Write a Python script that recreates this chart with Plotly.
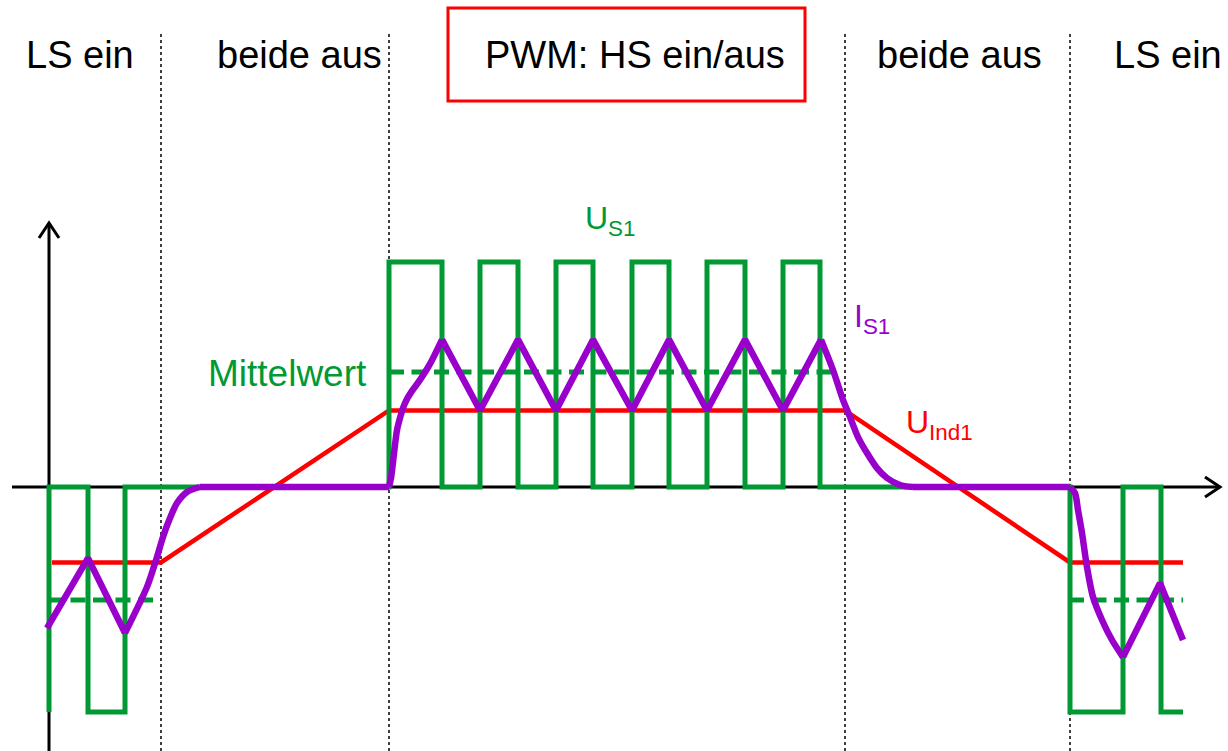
import plotly.graph_objects as go

# ---- signal data (time in arbitrary units, levels normalised to the supply voltage) ----
# switch-node voltage U_S1
us1_t = [49, 49, 88, 88, 125, 125, 389, 389, 442, 442, 480, 480, 518, 518, 556, 556,
         593, 593, 632, 632, 669, 669, 707, 707, 745, 745, 783, 783, 820, 820,
         1070, 1070, 1123, 1123, 1161, 1161, 1183]
us1_v = [-1, 0, 0, -1, -1, 0, 0, 1, 1, 0, 0, 1, 1, 0, 0, 1,
         1, 0, 0, 1, 1, 0, 0, 1, 1, 0, 0, 1, 1, 0,
         0, -1, -1, 0, 0, -1, -1]

# average value of U_S1 ("Mittelwert") per switching phase
mean_t = [48, 155, None, 389, 835, None, 1069, 1183]
mean_v = [-0.502, -0.502, None, 0.511, 0.511, None, -0.502, -0.502]

# induced voltage U_Ind1
uind_t = [52, 161, 389, 845, 1070, 1183]
uind_v = [-0.335, -0.335, 0.34, 0.34, -0.335, -0.335]

# phase current I_S1
is1_t = [47, 88, 125, 147, 157, 163, 170, 177, 187, 200, 389,
         391, 393, 395, 397, 400, 403, 407, 412, 420, 430, 442,
         480, 518, 556, 593, 632, 669, 707, 745, 783, 821,
         833, 843, 850, 858, 867, 877, 887, 900, 913,
         1070, 1075, 1078, 1082, 1087, 1093, 1102, 1112, 1123, 1160, 1183]
is1_v = [-0.627, -0.316, -0.649, -0.444, -0.311, -0.222, -0.138, -0.071, -0.022, 0, 0,
         0.04, 0.111, 0.187, 0.253, 0.307, 0.351, 0.391, 0.427, 0.476, 0.547, 0.655,
         0.34, 0.655, 0.34, 0.655, 0.34, 0.655, 0.34, 0.655, 0.34, 0.655,
         0.52, 0.387, 0.311, 0.222, 0.151, 0.084, 0.04, 0.009, 0,
         0, -0.027, -0.102, -0.204, -0.356, -0.489, -0.591, -0.68, -0.756, -0.427, -0.68]

# current pieces: straight ramps while switching, smooth curves during the transitions
# (first index, last index, line shape)
is1_pieces = [(0, 2, "linear"), (2, 9, "spline"), (9, 10, "linear"),
              (10, 21, "spline"), (21, 31, "linear"), (31, 40, "spline"),
              (40, 41, "linear"), (41, 49, "spline"), (49, 51, "linear")]

# switching phases
phase_bounds = [161, 389, 845, 1070]
phase_labels = ["LS ein", "beide aus", "PWM: HS ein/aus", "beide aus", "LS ein"]
phase_label_x = [80, 299, 635, 959, 1168]

GREEN = "#009933"
PURPLE = "#9900CC"
RED = "#FF0000"
FONT = "Liberation Sans, Arial, sans-serif"

W, H = 1228, 751
Y0_PX, UNIT_PX = 487, 225          # zero line position and size of one level unit
y_lo = (Y0_PX - H) / UNIT_PX
y_hi = Y0_PX / UNIT_PX


def paper_y(px):
    return 1 - px / H


fig = go.Figure()

fig.add_trace(go.Scatter(x=uind_t, y=uind_v, mode="lines",
                         line=dict(color=RED, width=4.5), hoverinfo="skip"))
fig.add_trace(go.Scatter(x=us1_t, y=us1_v, mode="lines",
                         line=dict(color=GREEN, width=5), hoverinfo="skip"))
fig.add_trace(go.Scatter(x=mean_t, y=mean_v, mode="lines",
                         line=dict(color=GREEN, width=5, dash="15px,7.5px"),
                         hoverinfo="skip"))
for i0, i1, shape in is1_pieces:
    line = dict(color=PURPLE, width=6.5, shape=shape)
    if shape == "spline":
        line["smoothing"] = 0.8
    fig.add_trace(go.Scatter(x=is1_t[i0:i1 + 1], y=is1_v[i0:i1 + 1], mode="lines",
                             line=line, hoverinfo="skip"))

shapes = []
# dotted phase separators
for xb in phase_bounds:
    shapes.append(dict(type="line", xref="x", yref="paper", x0=xb, x1=xb,
                       y0=0, y1=paper_y(33), layer="below",
                       line=dict(color="black", width=1.5, dash="dot")))
# axes with open arrow heads
ax_x0, ax_x1 = 12, 1220
ax_ytop = 1.1733
shapes += [
    dict(type="line", xref="x", yref="y", x0=ax_x0, x1=ax_x1, y0=0, y1=0,
         layer="below", line=dict(color="black", width=3)),
    dict(type="path", xref="x", yref="y", layer="below",
         path=f"M {ax_x1 - 15} 0.0444 L {ax_x1} 0 L {ax_x1 - 15} -0.0444",
         line=dict(color="black", width=3)),
    dict(type="line", xref="x", yref="y", x0=49, x1=49, y0=y_lo, y1=ax_ytop,
         layer="below", line=dict(color="black", width=3)),
    dict(type="path", xref="x", yref="y", layer="below",
         path=f"M 39 {ax_ytop - 0.0667} L 49 {ax_ytop} L 59 {ax_ytop - 0.0667}",
         line=dict(color="black", width=3)),
]
# frame around the PWM phase label
shapes.append(dict(type="rect", xref="x", yref="paper", x0=448, x1=805,
                   y0=paper_y(101), y1=paper_y(8), line=dict(color=RED, width=3)))

annotations = []
for name, xc in zip(phase_labels, phase_label_x):
    annotations.append(dict(x=xc, y=paper_y(55), xref="x", yref="paper",
                            text=name, showarrow=False, xanchor="center",
                            yanchor="middle",
                            font=dict(family=FONT, size=38, color="black")))

annotations += [
    dict(x=583, y=paper_y(198), xref="x", yref="paper", text="U<sub>S1</sub>",
         showarrow=False, xanchor="left", yanchor="top",
         font=dict(family=FONT, size=32, color=GREEN)),
    dict(x=852, y=paper_y(296), xref="x", yref="paper", text="I<sub>S1</sub>",
         showarrow=False, xanchor="left", yanchor="top",
         font=dict(family=FONT, size=32, color=PURPLE)),
    dict(x=904, y=paper_y(402), xref="x", yref="paper", text="U<sub>Ind1</sub>",
         showarrow=False, xanchor="left", yanchor="top",
         font=dict(family=FONT, size=32, color=RED)),
    dict(x=369, y=paper_y(373), xref="x", yref="paper", text="Mittelwert",
         showarrow=False, xanchor="right", yanchor="middle",
         font=dict(family=FONT, size=37, color=GREEN)),
]

fig.update_layout(
    width=W, height=H,
    margin=dict(l=0, r=0, t=0, b=0),
    paper_bgcolor="white", plot_bgcolor="white",
    showlegend=False,
    xaxis=dict(range=[0, W], visible=False, fixedrange=True),
    yaxis=dict(range=[y_lo, y_hi], visible=False, fixedrange=True),
    shapes=shapes,
    annotations=annotations,
)

fig.write_html("out.html", config={"displayModeBar": False})
